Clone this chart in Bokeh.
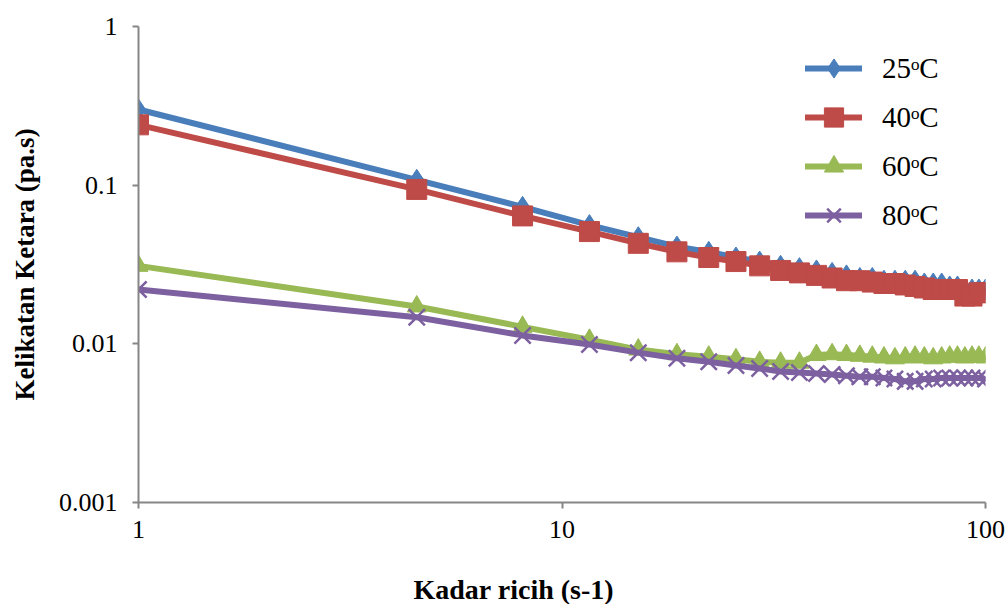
from bokeh.plotting import figure
from bokeh.models import Range1d, FixedTicker, CustomJSTickFormatter, Legend, LegendItem, Title
from bokeh.embed import file_html
from bokeh.resources import INLINE

# ---- data ----
shear_rate = [1.0, 4.54, 8.07, 11.61, 15.14, 18.68, 22.21, 25.75, 29.29, 32.82,
              36.36, 39.89, 43.43, 46.96, 50.5, 54.04, 57.57, 61.11, 64.64, 68.18,
              71.71, 75.25, 78.79, 82.32, 85.86, 89.39, 92.93, 96.46, 100.0]
visc_25 = [0.30, 0.108, 0.073, 0.056, 0.047, 0.041, 0.038, 0.035, 0.033, 0.031,
           0.030, 0.029, 0.028, 0.027, 0.026, 0.026, 0.025, 0.025, 0.025, 0.025,
           0.024, 0.024, 0.024, 0.023, 0.023, 0.022, 0.022, 0.022, 0.022]
visc_40 = [0.24, 0.094, 0.064, 0.051, 0.043, 0.038, 0.035, 0.033, 0.031, 0.029,
           0.028, 0.027, 0.026, 0.025, 0.025, 0.0245, 0.024, 0.024, 0.0235, 0.023,
           0.0225, 0.022, 0.022, 0.022, 0.022, 0.020, 0.020, 0.021, 0.021]
visc_60 = [0.031, 0.0172, 0.0128, 0.0106, 0.0092, 0.0086, 0.0083, 0.0080, 0.0077, 0.0076,
           0.0076, 0.0085, 0.0086, 0.0085, 0.0084, 0.0083, 0.0082, 0.0081, 0.0082, 0.0083,
           0.0082, 0.0081, 0.0082, 0.0083, 0.0083, 0.0082, 0.0083, 0.0083, 0.0082]
visc_80 = [0.022, 0.0147, 0.0113, 0.0099, 0.0088, 0.0081, 0.0077, 0.0073, 0.0070, 0.0067,
           0.0066, 0.0065, 0.0064, 0.0063, 0.0062, 0.0062, 0.0061, 0.0060, 0.0058, 0.0058,
           0.0060, 0.0060, 0.0061, 0.0061, 0.0061, 0.0061, 0.0061, 0.0061, 0.0060]
series_labels = ["25ᵒC", "40ᵒC", "60ᵒC", "80ᵒC"]
x_ticks = [1, 10, 100]
y_ticks = [0.001, 0.01, 0.1, 1]
x_title = "Kadar ricih  (s-1)"
y_title = "Kelikatan Ketara (pa.s)"

# ---- styles ----
colors = ["#4A7EBB", "#BE4B48", "#98B954", "#7D60A0"]
markers = ["diamond", "square", "triangle", "x"]
sizes = [21, 20, 19, 23]
FONT = "Liberation Serif"

p = figure(width=1006, height=604, x_axis_type="log", y_axis_type="log",
           x_range=Range1d(1, 100), y_range=Range1d(0.001, 1),
           output_backend="svg", toolbar_location=None,
           min_border_left=138, min_border_right=21, min_border_top=26,
           min_border_bottom=102)
p.outline_line_color = None
p.xgrid.visible = False
p.ygrid.visible = False
p.background_fill_color = "white"
p.border_fill_color = "white"

fmt = CustomJSTickFormatter(code="return String(Number(tick.toPrecision(6)));")
for ax, ticks in ((p.xaxis, x_ticks), (p.yaxis, y_ticks)):
    ax.ticker = FixedTicker(ticks=ticks)
    ax.formatter = fmt
    ax.axis_line_color = "#868686"
    ax.axis_line_width = 2
    ax.major_tick_line_color = "#868686"
    ax.major_tick_line_width = 2
    ax.major_tick_out = 6
    ax.major_tick_in = 0
    ax.minor_tick_line_color = None
    ax.major_label_text_font = FONT
    ax.major_label_text_font_size = "26px"
    ax.major_label_text_color = "black"
p.yaxis.major_label_standoff = 15
p.xaxis.major_label_standoff = 12
p.yaxis.axis_label = y_title
p.yaxis.axis_label_text_font = FONT
p.yaxis.axis_label_text_font_style = "bold"
p.yaxis.axis_label_text_font_size = "27px"
p.yaxis.axis_label_text_color = "black"
p.yaxis.axis_label_standoff = 16

series = [visc_25, visc_40, visc_60, visc_80]
items = []
for vals, lab, c, m, s in zip(series, series_labels, colors, markers, sizes):
    lr = p.line(shear_rate, vals, line_color=c, line_width=6,
                line_cap="round", line_join="round")
    if m == "x":
        sr = p.scatter(shear_rate, vals, marker=m, size=s, line_color=c, line_width=2.5)
    else:
        sr = p.scatter(shear_rate, vals, marker=m, size=s, fill_color=c, line_color=c)
    items.append(LegendItem(label=lab, renderers=[lr, sr]))

legend = Legend(items=items, location=(667, 263), glyph_width=57, glyph_height=48,
                spacing=1, padding=0, margin=0, label_standoff=20,
                label_text_font=FONT, label_text_font_size="29px",
                label_text_color="black", border_line_color=None,
                background_fill_alpha=0)
p.add_layout(legend)

# blank spacer between the x axis and its title
spacer = Title(text=" ", standoff=28, text_font_size="1px", text_color="white")
p.add_layout(spacer, "below")
xtitle = Title(text=x_title, align="left", offset=275, vertical_align="bottom",
               standoff=0, text_font=FONT, text_font_style="bold",
               text_font_size="28px", text_color="black")
p.add_layout(xtitle, "below")

open("out.html", "w").write(file_html(p, INLINE))
